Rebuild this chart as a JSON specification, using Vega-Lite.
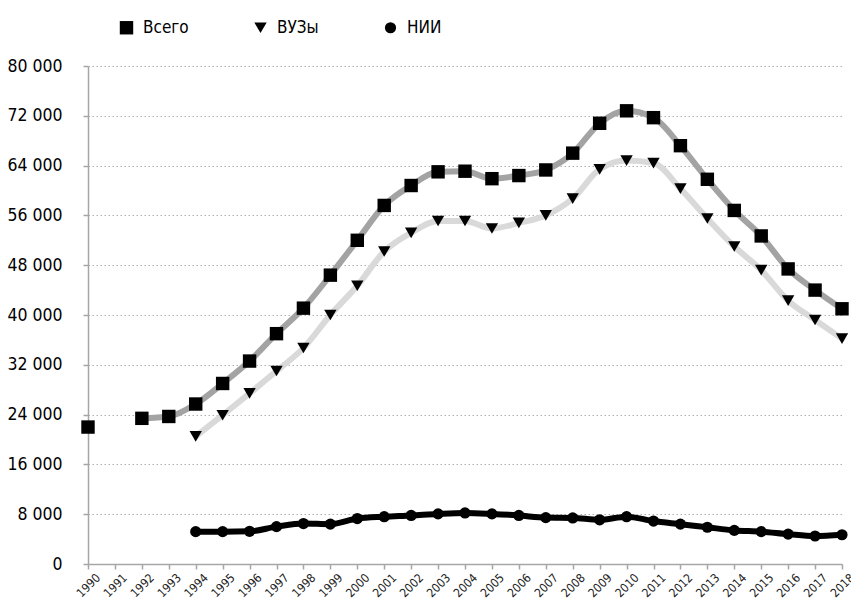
{
  "$schema": "https://vega.github.io/schema/vega-lite/v6.json",
  "width": 754,
  "height": 498,
  "autosize": {"type": "none"},
  "padding": {"left": 88, "top": 66, "right": 9, "bottom": 37},
  "background": "white",
  "config": {
    "view": {"stroke": null},
    "font": "DejaVu Sans Condensed, sans-serif",
    "axis": {"labelFont": "DejaVu Sans Condensed, sans-serif"},
    "legend": {"labelFont": "DejaVu Sans Condensed, sans-serif"}
  },
  "data": {
    "values": [
      {"year": 1990, "series": "Всего", "value": 22000},
      {"year": 1991, "series": "Всего", "value": null},
      {"year": 1992, "series": "Всего", "value": 23400},
      {"year": 1993, "series": "Всего", "value": 23700},
      {"year": 1994, "series": "Всего", "value": 25700},
      {"year": 1995, "series": "Всего", "value": 29000},
      {"year": 1996, "series": "Всего", "value": 32600},
      {"year": 1997, "series": "Всего", "value": 37000},
      {"year": 1998, "series": "Всего", "value": 41100},
      {"year": 1999, "series": "Всего", "value": 46400},
      {"year": 2000, "series": "Всего", "value": 52000},
      {"year": 2001, "series": "Всего", "value": 57600},
      {"year": 2002, "series": "Всего", "value": 60800},
      {"year": 2003, "series": "Всего", "value": 63000},
      {"year": 2004, "series": "Всего", "value": 63100},
      {"year": 2005, "series": "Всего", "value": 61900},
      {"year": 2006, "series": "Всего", "value": 62400},
      {"year": 2007, "series": "Всего", "value": 63300},
      {"year": 2008, "series": "Всего", "value": 66000},
      {"year": 2009, "series": "Всего", "value": 70800},
      {"year": 2010, "series": "Всего", "value": 72800},
      {"year": 2011, "series": "Всего", "value": 71700},
      {"year": 2012, "series": "Всего", "value": 67200},
      {"year": 2013, "series": "Всего", "value": 61800},
      {"year": 2014, "series": "Всего", "value": 56800},
      {"year": 2015, "series": "Всего", "value": 52700},
      {"year": 2016, "series": "Всего", "value": 47400},
      {"year": 2017, "series": "Всего", "value": 44000},
      {"year": 2018, "series": "Всего", "value": 41000},
      {"year": 1994, "series": "ВУЗы", "value": 20500},
      {"year": 1995, "series": "ВУЗы", "value": 23900},
      {"year": 1996, "series": "ВУЗы", "value": 27400},
      {"year": 1997, "series": "ВУЗы", "value": 31000},
      {"year": 1998, "series": "ВУЗы", "value": 34700},
      {"year": 1999, "series": "ВУЗы", "value": 40000},
      {"year": 2000, "series": "ВУЗы", "value": 44700},
      {"year": 2001, "series": "ВУЗы", "value": 50200},
      {"year": 2002, "series": "ВУЗы", "value": 53200},
      {"year": 2003, "series": "ВУЗы", "value": 55100},
      {"year": 2004, "series": "ВУЗы", "value": 55100},
      {"year": 2005, "series": "ВУЗы", "value": 53900},
      {"year": 2006, "series": "ВУЗы", "value": 54800},
      {"year": 2007, "series": "ВУЗы", "value": 56000},
      {"year": 2008, "series": "ВУЗы", "value": 58700},
      {"year": 2009, "series": "ВУЗы", "value": 63400},
      {"year": 2010, "series": "ВУЗы", "value": 64800},
      {"year": 2011, "series": "ВУЗы", "value": 64400},
      {"year": 2012, "series": "ВУЗы", "value": 60300},
      {"year": 2013, "series": "ВУЗы", "value": 55500},
      {"year": 2014, "series": "ВУЗы", "value": 51000},
      {"year": 2015, "series": "ВУЗы", "value": 47200},
      {"year": 2016, "series": "ВУЗы", "value": 42300},
      {"year": 2017, "series": "ВУЗы", "value": 39200},
      {"year": 2018, "series": "ВУЗы", "value": 36200},
      {"year": 1994, "series": "НИИ", "value": 5200},
      {"year": 1995, "series": "НИИ", "value": 5200},
      {"year": 1996, "series": "НИИ", "value": 5250},
      {"year": 1997, "series": "НИИ", "value": 6000},
      {"year": 1998, "series": "НИИ", "value": 6500},
      {"year": 1999, "series": "НИИ", "value": 6400},
      {"year": 2000, "series": "НИИ", "value": 7300},
      {"year": 2001, "series": "НИИ", "value": 7600},
      {"year": 2002, "series": "НИИ", "value": 7800},
      {"year": 2003, "series": "НИИ", "value": 8050},
      {"year": 2004, "series": "НИИ", "value": 8200},
      {"year": 2005, "series": "НИИ", "value": 8050},
      {"year": 2006, "series": "НИИ", "value": 7800},
      {"year": 2007, "series": "НИИ", "value": 7450},
      {"year": 2008, "series": "НИИ", "value": 7400},
      {"year": 2009, "series": "НИИ", "value": 7100},
      {"year": 2010, "series": "НИИ", "value": 7600},
      {"year": 2011, "series": "НИИ", "value": 6900},
      {"year": 2012, "series": "НИИ", "value": 6400},
      {"year": 2013, "series": "НИИ", "value": 5900},
      {"year": 2014, "series": "НИИ", "value": 5400},
      {"year": 2015, "series": "НИИ", "value": 5200},
      {"year": 2016, "series": "НИИ", "value": 4800},
      {"year": 2017, "series": "НИИ", "value": 4500},
      {"year": 2018, "series": "НИИ", "value": 4700}
    ]
  },
  "encoding": {
    "x": {
      "field": "year",
      "type": "ordinal",
      "scale": {
        "type": "point",
        "padding": 0,
        "domain": [1990, 1991, 1992, 1993, 1994, 1995, 1996, 1997, 1998, 1999, 2000, 2001, 2002, 2003, 2004, 2005, 2006, 2007, 2008, 2009, 2010, 2011, 2012, 2013, 2014, 2015, 2016, 2017, 2018]
      },
      "axis": {
        "title": null,
        "labelAngle": -45,
        "labelAlign": "center",
        "labelBaseline": "middle",
        "labelFontSize": 12,
        "labelColor": "#222222",
        "labelPadding": 16,
        "labelOverlap": false,
        "domainColor": "#a6a6a6",
        "domainWidth": 1.5,
        "tickColor": "#a6a6a6",
        "tickSize": 5,
        "tickWidth": 1.5,
        "grid": false
      }
    },
    "y": {
      "field": "value",
      "type": "quantitative",
      "scale": {"domain": [0, 80000], "nice": false},
      "axis": {
        "title": null,
        "values": [0, 8000, 16000, 24000, 32000, 40000, 48000, 56000, 64000, 72000, 80000],
        "labelExpr": "replace(format(datum.value, ','), ',', ' ')",
        "labelFontSize": 17.5,
        "labelColor": "#000000",
        "labelPadding": 21,
        "domainColor": "#a6a6a6",
        "domainWidth": 1.5,
        "tickColor": "#a6a6a6",
        "tickSize": 5,
        "tickWidth": 1.5,
        "grid": true,
        "gridColor": "#b0b0b0",
        "gridDash": [1.5, 2.5],
        "gridWidth": 1
      }
    }
  },
  "layer": [
    {
      "mark": {"type": "line", "interpolate": "monotone", "strokeWidth": 6, "invalid": "break-paths-show-domains"},
      "encoding": {
        "color": {
          "field": "series",
          "type": "nominal",
          "scale": {"domain": ["НИИ", "ВУЗы", "Всего"], "range": ["#000000", "#d9d9d9", "#a3a3a3"]},
          "legend": null
        }
      }
    },
    {
      "mark": {"type": "point", "filled": true, "color": "#000000", "opacity": 1},
      "encoding": {
        "shape": {
          "field": "series",
          "type": "nominal",
          "scale": {"domain": ["Всего", "ВУЗы", "НИИ"], "range": ["square", "triangle-down", "circle"]},
          "legend": {
            "title": null,
            "orient": "none",
            "legendX": 30,
            "legendY": -47,
            "direction": "horizontal",
            "columnPadding": 63,
            "labelFontSize": 17,
            "labelColor": "#000000",
            "symbolSize": 130,
            "symbolFillColor": "#000000",
            "symbolStrokeWidth": 0,
            "labelOffset": 8
          }
        },
        "size": {
          "field": "series",
          "type": "nominal",
          "scale": {"domain": ["Всего", "ВУЗы", "НИИ"], "range": [180, 125, 115]}
        }
      }
    }
  ]
}
